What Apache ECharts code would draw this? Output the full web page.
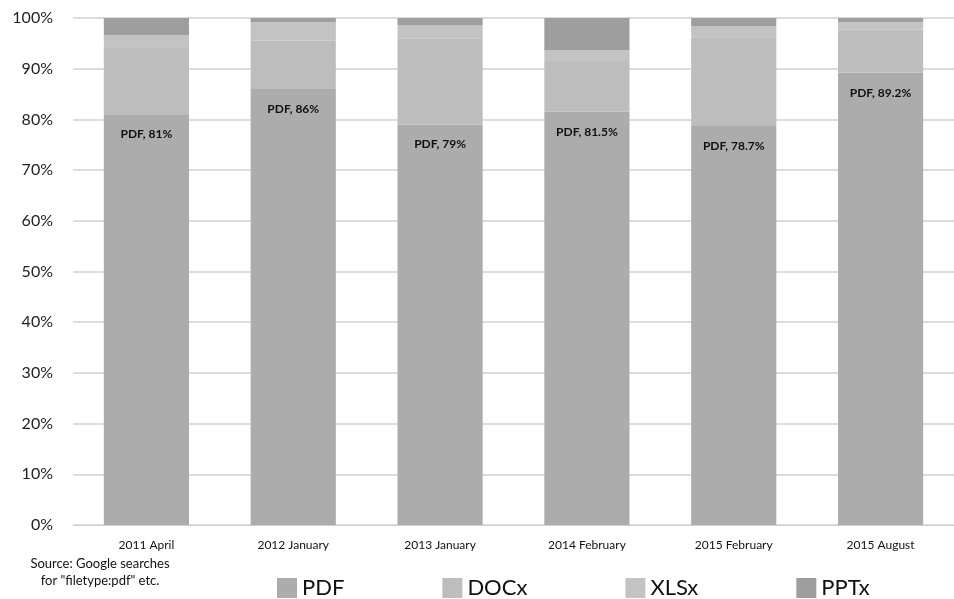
<!DOCTYPE html>
<html>
<head>
<meta charset="utf-8">
<script src="https://cdn.jsdelivr.net/npm/echarts@6/dist/echarts.min.js"></script>
<style>html,body{margin:0;padding:0;background:#fff;}#c{width:954px;height:599px;}</style>
</head>
<body>
<div id="c"></div>
<script>
var categories = ['2011 April', '2012 January', '2013 January', '2014 February', '2015 February', '2015 August'];
var pdf  = [81, 86, 79, 81.5, 78.7, 89.2];
var docx = [13.1, 9.5, 17.0, 10.0, 17.5, 8.5];
var xlsx = [2.5, 3.7, 2.6, 2.2, 2.2, 1.5];
var pptx = [3.4, 0.8, 1.4, 6.3, 1.6, 0.8];
var pdfLabels = ['PDF, 81%', 'PDF, 86%', 'PDF, 79%', 'PDF, 81.5%', 'PDF, 78.7%', 'PDF, 89.2%'];
var yTicks = [0, 10, 20, 30, 40, 50, 60, 70, 80, 90, 100];

var font = 'Lato, "Open Sans", sans-serif';
var chart = echarts.init(document.getElementById('c'));
function mk(name, data, color, label) {
  var s = {
    name: name, type: 'bar', stack: 'all', data: data, barWidth: '58%',
    itemStyle: { color: color },
    emphasis: { disabled: true }
  };
  if (label) {
    s.label = {
      show: true, position: 'insideTop', distance: 14,
      fontFamily: font, fontWeight: 'bold', fontSize: 12, color: '#111',
      formatter: function (p) { return pdfLabels[p.dataIndex]; }
    };
  }
  return s;
}
chart.setOption({
  animation: false,
  backgroundColor: '#fff',
  grid: { left: 73, right: 0, top: 18, bottom: 74 },
  xAxis: {
    type: 'category', data: categories,
    axisLine: { show: true, lineStyle: { color: '#d0d0d0', width: 1 } },
    axisTick: { show: false },
    axisLabel: { fontFamily: font, fontSize: 12, color: '#111', margin: 14 }
  },
  yAxis: {
    type: 'value', min: 0, max: 100, interval: 10,
    axisLine: { show: false }, axisTick: { show: false },
    splitLine: { lineStyle: { color: '#d0d0d0', width: 1.5 } },
    axisLabel: { fontFamily: font, fontSize: 16, color: '#222', margin: 20,
      formatter: function (v) { return yTicks.indexOf(v) >= 0 ? v + '%' : ''; } }
  },
  legend: {
    left: 272, top: 572, itemWidth: 20, itemHeight: 20, itemGap: 98,
    icon: 'rect',
    textStyle: { fontFamily: font, fontSize: 22, color: '#111' },
    data: ['PDF', 'DOCx', 'XLSx', 'PPTx']
  },
  graphic: [{
    type: 'text', x: 100, y: 555,
    style: { text: 'Source: Google searches\nfor "filetype:pdf" etc.', fontFamily: font, fontSize: 13,
      fill: '#111', textAlign: 'center', align: 'center', lineHeight: 17 }
  }],
  series: [
    mk('PDF', pdf, '#acacad', true),
    mk('DOCx', docx, '#bdbdbe'),
    mk('XLSx', xlsx, '#c3c3c4'),
    mk('PPTx', pptx, '#9e9e9f')
  ]
});
</script>
</body>
</html>
